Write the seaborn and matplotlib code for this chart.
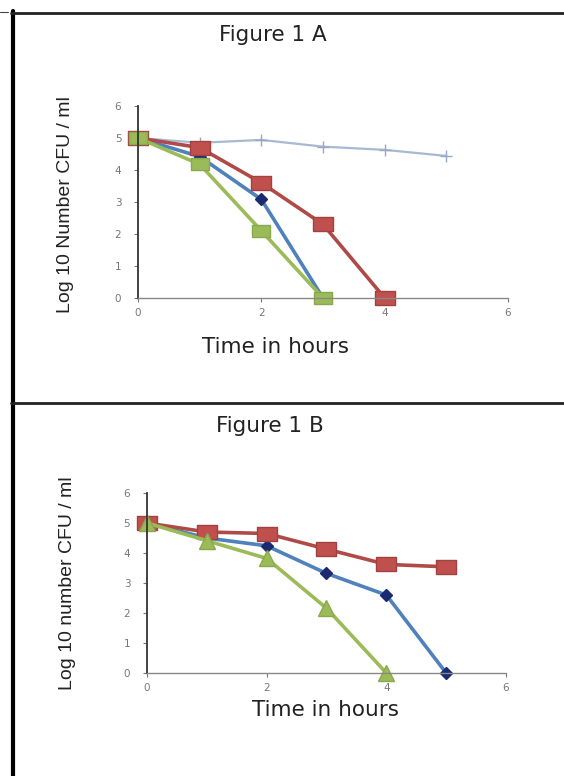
import numpy as np
import pandas as pd
import matplotlib
matplotlib.use("Agg")
import matplotlib.pyplot as plt
from matplotlib.lines import Line2D
import seaborn as sns

# ==========================
# DATA
# ==========================

hours = [0, 1, 2, 3, 4, 5]

# Figure 1 A
control_a = [5.0, 4.85, 4.94, 4.73, 4.63, 4.44]
blue_a = [5.0, 4.42, 3.08, 0.0]
red_a = [5.0, 4.70, 3.60, 2.30, 0.0]
green_a = [5.0, 4.18, 2.10, 0.0]

# Figure 1 B
blue_b = [5.0, 4.50, 4.24, 3.32, 2.60, 0.0]
red_b = [5.0, 4.70, 4.65, 4.13, 3.62, 3.54]
green_b = [5.0, 4.41, 3.82, 2.16, 0.0]

titles = ["Figure 1 A", "Figure 1 B"]
ylabels = ["Log 10 Number CFU / ml", "Log 10 number CFU / ml"]
xlabel = "Time in hours"

sns.set_style("white")
plt.rcParams["font.family"] = ["DejaVu Sans"]

fig = plt.figure(figsize=(5.64, 7.76), dpi=100)

ax_a = fig.add_axes([0.2447, 0.616, 0.656, 0.2474])
ax_b = fig.add_axes([0.2606, 0.1327, 0.6366, 0.232])

rect = [(-1.4, -1), (1.4, -1), (1.4, 1), (-1.4, 1), (-1.4, -1)]


def draw(ax, x, y, color, marker, ms, lw, mfc, mec):
    d = pd.DataFrame({"x": x[:len(y)], "y": y})
    sns.lineplot(
        data=d, x="x", y="y", ax=ax,
        color=color, linewidth=lw,
        marker=marker, markersize=ms,
        markerfacecolor=mfc, markeredgecolor=mec,
        markeredgewidth=1.0, clip_on=False
    )


# panel A
draw(ax_a, hours, control_a, "#A7B9D3", "+", 9, 1.6, "#A7B9D3", "#95A8C4")
draw(ax_a, hours, blue_a, "#4F81BD", "D", 6, 2.6, "#1B2A70", "#1B2A70")
draw(ax_a, hours, red_a, "#B04A47", rect, 15, 2.6, "#C0504D", "#A04240")
draw(ax_a, hours, green_a, "#9BBB59", rect, 13, 2.6, "#9BBB59", "#8AA84C")

# panel B
draw(ax_b, hours, blue_b, "#4F81BD", "D", 6, 2.6, "#1B2A70", "#1B2A70")
draw(ax_b, hours, red_b, "#B04A47", rect, 15, 2.6, "#C0504D", "#A04240")
draw(ax_b, hours, green_b, "#9BBB59", "^", 12, 2.6, "#9BBB59", "#8AA84C")

for ax in [ax_a, ax_b]:
    ax.set_xlim(0, 6)
    ax.set_ylim(0, 6)
    ax.set_xticks([0, 2, 4, 6])
    ax.set_yticks([0, 1, 2, 3, 4, 5, 6])
    ax.tick_params(axis="both", direction="out", length=3, width=0.8,
                   colors="#777777", labelsize=7.5, left=True, bottom=True)
    ax.tick_params(axis="x", pad=4)
    ax.tick_params(axis="y", pad=9)
    for side in ["top", "right"]:
        ax.spines[side].set_visible(False)
    ax.spines["left"].set_color("#333333")
    ax.spines["left"].set_linewidth(1.3)
    ax.spines["bottom"].set_color("#888888")
    ax.spines["bottom"].set_linewidth(1.0)
    ax.set_xlabel("")
    ax.set_ylabel("")

# titles and labels placed in figure space
big = dict(ha="center", va="center", fontsize=15.5, color="#222222")
fig.text(273 / 564, 1 - 35 / 776, titles[0], **big)
fig.text(270 / 564, 1 - 426 / 776, titles[1], **big)
fig.text(275 / 564, 1 - 347 / 776, xlabel, **big)
fig.text(325 / 564, 1 - 710 / 776, xlabel, **big)

side = dict(rotation=90, ha="center", va="center", fontsize=14,
            color="#222222", family=["Liberation Sans", "DejaVu Sans"])
fig.text(66 / 564, 1 - 205 / 776, ylabels[0], **side)
fig.text(67 / 564, 1 - 583 / 776, ylabels[1], **side)

# frame lines of the page
fig.add_artist(Line2D([12.5 / 564, 12.5 / 564], [0, 1 - 11 / 776],
                      color="black", linewidth=3.0))
fig.add_artist(Line2D([11 / 564, 1], [1 - 13 / 776, 1 - 13 / 776],
                      color="#222222", linewidth=2.0))
fig.add_artist(Line2D([0, 8 / 564], [1 - 12 / 776, 1 - 12 / 776],
                      color="#444444", linewidth=0.8))
fig.add_artist(Line2D([11 / 564, 1], [1 - 403 / 776, 1 - 403 / 776],
                      color="#222222", linewidth=2.0))

plt.savefig("out.png", dpi=100)
